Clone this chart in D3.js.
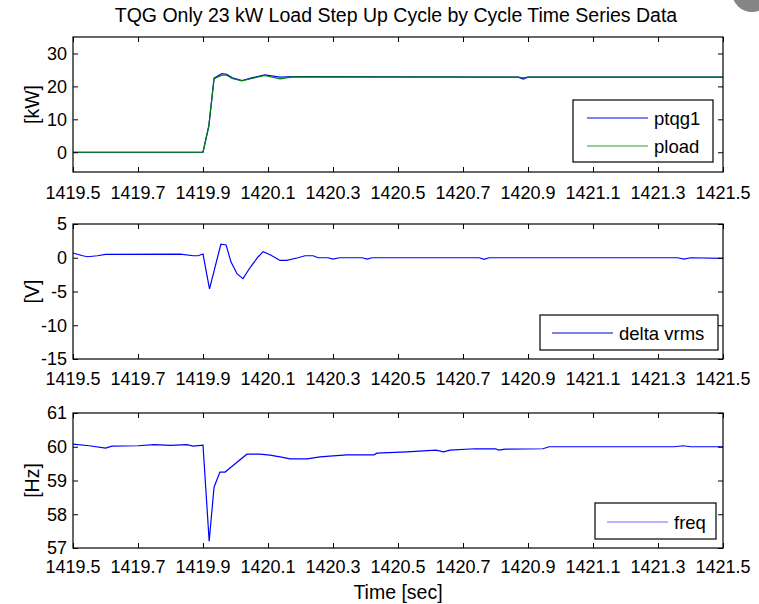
<!DOCTYPE html>
<html>
<head>
<meta charset="utf-8">
<script src="https://cdn.jsdelivr.net/npm/d3@7"></script>
<style>
  body { margin: 0; background: #fff; }
  text { font-family: "Liberation Sans", Arial, sans-serif; fill: #000; }
  .tick-label { font-size: 18px; }
  .title { font-size: 19.5px; }
  .label { font-size: 19.5px; }
  .legend-text { font-size: 18.5px; }
</style>
</head>
<body>
<svg id="chart" width="759" height="604"></svg>
<script>
// time ticks shared by all three panels
var timeTicks = [1419.5, 1419.7, 1419.9, 1420.1, 1420.3, 1420.5, 1420.7, 1420.9, 1421.1, 1421.3, 1421.5];

// power panel
var pTime  = [1419.5, 1419.9, 1419.918, 1419.934, 1419.958, 1419.973, 1419.99, 1420.02, 1420.05, 1420.09, 1420.137, 1420.177, 1420.87, 1420.885, 1420.9, 1421.5];
var ptqg1  = [0, 0, 8, 22.5, 23.9, 23.7, 22.6, 21.8, 22.6, 23.5, 22.8, 23.0, 22.8, 22.2, 22.8, 22.8];
var pload  = [0, 0, 8, 22.3, 23.4, 23.4, 22.4, 21.7, 22.4, 23.3, 22.3, 22.9, 22.8, 22.6, 22.8, 22.8];
var pTicks = [0, 10, 20, 30];

// voltage panel
var vTime = [1419.5, 1419.53, 1419.545, 1419.575, 1419.6, 1419.83, 1419.87, 1419.885, 1419.9, 1419.92, 1419.955, 1419.971, 1419.986, 1420.005, 1420.023, 1420.047, 1420.07, 1420.085, 1420.108, 1420.137, 1420.158, 1420.192, 1420.214, 1420.239, 1420.254, 1420.285, 1420.3, 1420.32, 1420.39, 1420.405, 1420.42, 1420.75, 1420.765, 1420.78, 1421.36, 1421.38, 1421.4, 1421.5];
var vrms  = [0.7, 0.3, 0.15, 0.3, 0.5, 0.55, 0.3, 0.3, 0.55, -4.6, 2.0, 1.9, -0.6, -2.4, -3.1, -1.3, 0.15, 0.9, 0.4, -0.4, -0.4, 0, 0.3, 0.3, 0, 0, -0.2, 0, 0, -0.2, 0, 0, -0.25, 0, 0, -0.2, 0, -0.1];
var vTicks = [-15, -10, -5, 0, 5];

// frequency panel
var fTime = [1419.5, 1419.55, 1419.6, 1419.62, 1419.7, 1419.75, 1419.8, 1419.85, 1419.87, 1419.9, 1419.919, 1419.934, 1419.952, 1419.968, 1419.983, 1420.035, 1420.075, 1420.106, 1420.137, 1420.168, 1420.22, 1420.26, 1420.3, 1420.343, 1420.426, 1420.435, 1420.528, 1420.617, 1420.64, 1420.66, 1420.737, 1420.8, 1420.81, 1420.83, 1420.946, 1420.965, 1421.35, 1421.377, 1421.4, 1421.5];
var freq  = [60.08, 60.03, 59.96, 60.02, 60.03, 60.06, 60.04, 60.06, 60.02, 60.05, 57.2, 58.8, 59.25, 59.25, 59.37, 59.78, 59.78, 59.75, 59.7, 59.64, 59.64, 59.7, 59.73, 59.76, 59.76, 59.81, 59.85, 59.9, 59.85, 59.9, 59.94, 59.94, 59.9, 59.93, 59.94, 60.0, 60.0, 60.03, 60.0, 60.0];
var fTicks = [57, 58, 59, 60, 61];

var svg = d3.select("#chart");
var left = 73, right = 723;

var x = d3.scaleLinear().domain([1419.5, 1421.5]).range([left, right]);

function zip(t, v) {
  return t.map(function(d, i) { return [d, v[i]]; });
}

function panel(opts) {
  var top = opts.top, bottom = opts.top + 135;
  var y = d3.scaleLinear().domain(opts.domain).range([bottom, top]);
  var g = svg.append("g");

  var line = d3.line()
      .x(function(d) { return x(d[0]); })
      .y(function(d) { return y(d[1]); });

  opts.series.forEach(function(s) {
    g.append("path")
        .datum(s.data)
        .attr("fill", "none")
        .attr("stroke", s.color)
        .attr("stroke-width", 1.2)
        .attr("d", line);
  });

  // inward ticks on all four sides, MATLAB style
  g.append("g")
      .attr("transform", "translate(0," + bottom + ")")
      .call(d3.axisBottom(x).tickValues(timeTicks).tickSizeInner(-5).tickSizeOuter(0).tickFormat(""));
  g.append("g")
      .attr("transform", "translate(0," + top + ")")
      .call(d3.axisTop(x).tickValues(timeTicks).tickSizeInner(-5).tickSizeOuter(0).tickFormat(""));
  g.append("g")
      .attr("transform", "translate(" + left + ",0)")
      .call(d3.axisLeft(y).tickValues(opts.ticks).tickSizeInner(-5).tickSizeOuter(0).tickFormat(""));
  g.append("g")
      .attr("transform", "translate(" + right + ",0)")
      .call(d3.axisRight(y).tickValues(opts.ticks).tickSizeInner(-5).tickSizeOuter(0).tickFormat(""));
  g.selectAll(".domain").remove();
  g.selectAll(".tick line").attr("stroke", "#000");

  g.append("rect")
      .attr("x", left).attr("y", top)
      .attr("width", right - left).attr("height", bottom - top)
      .attr("fill", "none").attr("stroke", "#000").attr("stroke-width", 1.2);

  g.selectAll(".xlab")
    .data(timeTicks)
    .enter().append("text")
      .attr("class", "tick-label")
      .attr("x", function(d) { return x(d); })
      .attr("y", bottom + opts.xlabOffset)
      .attr("text-anchor", "middle")
      .text(function(d) { return d.toFixed(1); });

  g.selectAll(".ylab")
    .data(opts.ticks)
    .enter().append("text")
      .attr("class", "tick-label")
      .attr("x", left - 6)
      .attr("y", function(d) { return y(d); })
      .attr("dy", "0.36em")
      .attr("text-anchor", "end")
      .text(function(d) { return d; });

  g.append("text")
      .attr("class", "label")
      .attr("transform", "translate(39," + ((top + bottom) / 2) + ") rotate(-90)")
      .attr("text-anchor", "middle")
      .text(opts.ylabel);

  // legend
  var lg = opts.legend;
  g.append("rect")
      .attr("x", lg.x).attr("y", lg.y)
      .attr("width", lg.w).attr("height", lg.h)
      .attr("fill", "#fff").attr("stroke", "#000").attr("stroke-width", 1.2);
  lg.items.forEach(function(it, i) {
    var cy = lg.y + lg.first + i * 28;
    g.append("line")
        .attr("x1", lg.lineX).attr("x2", lg.lineX + lg.lineW)
        .attr("y1", cy).attr("y2", cy)
        .attr("stroke", it.color).attr("stroke-width", 1.2);
    g.append("text")
        .attr("class", "legend-text")
        .attr("x", lg.lineX + lg.lineW + 6)
        .attr("y", cy)
        .attr("dy", "0.36em")
        .text(it.name);
  });
}

panel({
  top: 37, domain: [-6, 35], ticks: pTicks, ylabel: "[kW]", xlabOffset: 27,
  series: [
    {data: zip(pTime, ptqg1), color: "#0000ff"},
    {data: zip(pTime, pload), color: "#008000"}
  ],
  legend: {x: 573, y: 100, w: 140, h: 62, first: 18, lineX: 587, lineW: 61,
    items: [{name: "ptqg1", color: "#0000ff"}, {name: "pload", color: "#2ca02c"}]}
});

panel({
  top: 224, domain: [-15, 5], ticks: vTicks, ylabel: "[V]", xlabOffset: 26,
  series: [{data: zip(vTime, vrms), color: "#0000ff"}],
  legend: {x: 540, y: 315, w: 178, h: 35, first: 18, lineX: 552, lineW: 61,
    items: [{name: "delta vrms", color: "#0000cc"}]}
});

panel({
  top: 413, domain: [57, 61], ticks: fTicks, ylabel: "[Hz]", xlabOffset: 25,
  series: [{data: zip(fTime, freq), color: "#0000ff"}],
  legend: {x: 595, y: 503, w: 121, h: 36, first: 19, lineX: 607, lineW: 61,
    items: [{name: "freq", color: "#6b6bff"}]}
});

svg.append("text")
    .attr("class", "title")
    .attr("x", 396).attr("y", 22)
    .attr("text-anchor", "middle")
    .text("TQG Only 23 kW Load Step Up Cycle by Cycle Time Series Data");

svg.append("text")
    .attr("class", "label")
    .attr("x", 398).attr("y", 599)
    .attr("text-anchor", "middle")
    .text("Time [sec]");

// grey corner blob seen in the screenshot
svg.append("circle")
    .attr("cx", 752).attr("cy", -8).attr("r", 20)
    .attr("fill", "#858585");
</script>
</body>
</html>
